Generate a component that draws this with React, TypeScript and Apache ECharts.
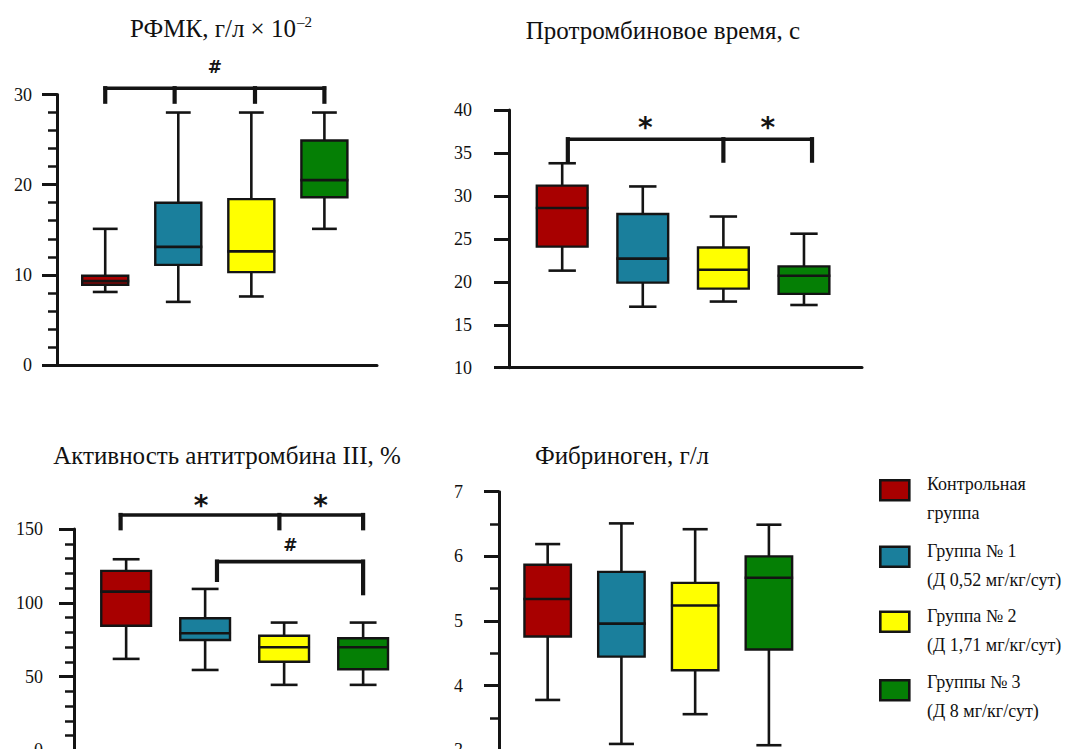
import React, { useEffect, useRef } from 'react';
import * as echarts from 'echarts';

const FONT = 'Liberation Serif, Times New Roman, serif';
const MARK_FONT = 'DejaVu Sans, sans-serif';

const GROUP_LINE1 = ['Контрольная', 'Группа № 1', 'Группа № 2', 'Группы № 3'];
const GROUP_LINE2 = ['группа', '(Д 0,52 мг/кг/сут)', '(Д 1,71 мг/кг/сут)', '(Д 8 мг/кг/сут)'];
const COLORS = ['#a80000', '#1a7f9c', '#ffff00', '#057f05'];

const TITLES = ['РФМК, г/л × 10', 'Протромбиновое время, с', 'Активность антитромбина III, %', 'Фибриноген, г/л'];

// Panel 1: РФМК
const P1_MIN = [8.1, 7.0, 7.6, 15.1];
const P1_Q1 = [8.9, 11.1, 10.3, 18.6];
const P1_MED = [9.3, 13.1, 12.6, 20.5];
const P1_Q3 = [9.9, 18.0, 18.4, 24.9];
const P1_MAX = [15.1, 28.0, 28.0, 28.0];
const P1_BRACKET_X = [[0, 0.95, 2.05, 3]];
const P1_BRACKET_LINE = [30.7];
const P1_BRACKET_END = [[29.2, 29.2, 29.2, 29.2]];
const P1_MARK_TEXT = ['#'];
const P1_MARK_POS = [[1.5, 33.0]];

// Panel 2: Протромбиновое время
const P2_MIN = [21.3, 17.1, 17.7, 17.3];
const P2_Q1 = [24.1, 19.9, 19.2, 18.6];
const P2_MED = [28.6, 22.7, 21.4, 20.7];
const P2_Q3 = [31.2, 27.9, 24.0, 21.8];
const P2_MAX = [33.8, 31.1, 27.6, 25.6];
const P2_BRACKET_X = [[0.07, 2.0, 3.1]];
const P2_BRACKET_LINE = [36.6];
const P2_BRACKET_END = [[34.1, 34.1, 34.1]];
const P2_MARK_TEXT = ['*', '*'];
const P2_MARK_POS = [[1.03, 38.6], [2.55, 38.6]];

// Panel 3: Активность антитромбина III
const P3_MIN = [62, 54.5, 44.4, 44.4];
const P3_Q1 = [84.5, 74.8, 60.1, 55];
const P3_MED = [107.6, 79.4, 69.9, 69.9];
const P3_Q3 = [121.6, 89.5, 77.7, 76];
const P3_MAX = [129.5, 109.4, 86.6, 86.6];
const P3_BRACKET_X = [[-0.07, 1.94, 3.0], [1.15, 3.0]];
const P3_BRACKET_LINE = [159.5, 127.9];
const P3_BRACKET_END = [[150.5, 150.5, 150.5], [115.5, 106.5]];
const P3_MARK_TEXT = ['*', '*', '#'];
const P3_MARK_POS = [[0.95, 170], [2.46, 170], [2.08, 139.2]];

// Panel 4: Фибриноген
const P4_MIN = [3.78, 3.1, 3.56, 3.08];
const P4_Q1 = [4.76, 4.45, 4.24, 4.56];
const P4_MED = [5.34, 4.96, 5.24, 5.67];
const P4_Q3 = [5.87, 5.76, 5.59, 6.0];
const P4_MAX = [6.19, 6.51, 6.42, 6.49];

const Y_MIN = [0, 10, 0, 3];
const Y_MAX = [30, 40, 150, 7];
const Y_INTERVAL = [10, 5, 50, 1];
const Y_MINOR = [5, 0, 5, 2];

const X_MIN = -0.66;
const X_MAX = 3.72;

type Panel = {
  min: number[]; q1: number[]; med: number[]; q3: number[]; max: number[];
  bx: number[][]; bl: number[]; be: number[][]; mt: string[]; mp: number[][];
};

const PANELS: Panel[] = [
  { min: P1_MIN, q1: P1_Q1, med: P1_MED, q3: P1_Q3, max: P1_MAX, bx: P1_BRACKET_X, bl: P1_BRACKET_LINE, be: P1_BRACKET_END, mt: P1_MARK_TEXT, mp: P1_MARK_POS },
  { min: P2_MIN, q1: P2_Q1, med: P2_MED, q3: P2_Q3, max: P2_MAX, bx: P2_BRACKET_X, bl: P2_BRACKET_LINE, be: P2_BRACKET_END, mt: P2_MARK_TEXT, mp: P2_MARK_POS },
  { min: P3_MIN, q1: P3_Q1, med: P3_MED, q3: P3_Q3, max: P3_MAX, bx: P3_BRACKET_X, bl: P3_BRACKET_LINE, be: P3_BRACKET_END, mt: P3_MARK_TEXT, mp: P3_MARK_POS },
  { min: P4_MIN, q1: P4_Q1, med: P4_MED, q3: P4_Q3, max: P4_MAX, bx: [], bl: [], be: [], mt: [], mp: [] },
];

// layout (pixels)
const GRIDS = [
  { left: 57, top: 94.5, width: 320, height: 270.5, labelMargin: 25 },
  { left: 509, top: 110, width: 353, height: 257.7, labelMargin: 37 },
  { left: 74, top: 529, width: 346, height: 221.4, labelMargin: 31 },
  { left: 499, top: 491.7, width: 323, height: 258.7, labelMargin: 36 },
];
const TITLE_POS = [[221, 28], [663, 30], [227, 455], [622, 455]];

const INK = '#141414';

function buildOption() {
  const grid: any[] = [];
  const xAxis: any[] = [];
  const yAxis: any[] = [];
  const series: any[] = [];

  PANELS.forEach((p, k) => {
    const g = GRIDS[k];
    grid.push({ left: g.left, top: g.top, width: g.width, height: g.height, containLabel: false });
    xAxis.push({
      type: 'value', gridIndex: k, min: X_MIN, max: X_MAX,
      axisLine: { show: true, onZero: false, lineStyle: { color: INK, width: 3 } },
      axisTick: { show: false }, axisLabel: { show: false }, splitLine: { show: false },
    });
    yAxis.push({
      type: 'value', gridIndex: k, min: Y_MIN[k], max: Y_MAX[k], interval: Y_INTERVAL[k],
      axisLine: { show: true, onZero: false, lineStyle: { color: INK, width: 3 } },
      axisTick: { show: true, inside: false, length: 15, lineStyle: { color: INK, width: 3 } },
      minorTick: { show: Y_MINOR[k] > 0, splitNumber: Y_MINOR[k] || 5, length: 9, lineStyle: { color: INK, width: 2.5 } },
      axisLabel: { margin: g.labelMargin, fontFamily: FONT, fontSize: 18, color: '#111' },
      splitLine: { show: false },
    });

    const boxData = p.min.map((v, i) => [i, v, p.q1[i], p.med[i], p.q3[i], p.max[i]]);
    series.push({
      type: 'custom', name: 'box' + k, xAxisIndex: k, yAxisIndex: k, clip: false,
      encode: { x: 0, y: [1, 2, 3, 4, 5] },
      data: boxData,
      renderItem: (params: any, api: any) => {
        const i = api.value(0);
        const band = api.size([1, 0])[0];
        const bw = band * 0.63;
        const cw = band * 0.34;
        const pMin = api.coord([i, api.value(1)]);
        const pQ1 = api.coord([i, api.value(2)]);
        const pMed = api.coord([i, api.value(3)]);
        const pQ3 = api.coord([i, api.value(4)]);
        const pMax = api.coord([i, api.value(5)]);
        const cx = pMin[0];
        const ls = { stroke: INK, lineWidth: 2.6 };
        return {
          type: 'group',
          children: [
            { type: 'line', shape: { x1: cx, y1: pMax[1], x2: cx, y2: pMin[1] }, style: ls },
            { type: 'line', shape: { x1: cx - cw / 2, y1: pMax[1], x2: cx + cw / 2, y2: pMax[1] }, style: ls },
            { type: 'line', shape: { x1: cx - cw / 2, y1: pMin[1], x2: cx + cw / 2, y2: pMin[1] }, style: ls },
            { type: 'rect', shape: { x: cx - bw / 2, y: pQ3[1], width: bw, height: pQ1[1] - pQ3[1] }, style: { fill: COLORS[params.dataIndex], stroke: INK, lineWidth: 2.4 } },
            { type: 'line', shape: { x1: cx - bw / 2 - 1, y1: pMed[1], x2: cx + bw / 2 + 1, y2: pMed[1] }, style: ls },
          ],
        };
      },
    });

    if (p.bx.length) {
      const segs: number[][] = [];
      p.bx.forEach((xs, b) => {
        segs.push([xs[0], p.bl[b], xs[xs.length - 1], p.bl[b]]);
        xs.forEach((x, j) => segs.push([x, p.bl[b], x, p.be[b][j]]));
      });
      series.push({
        type: 'custom', name: 'bracket' + k, xAxisIndex: k, yAxisIndex: k, clip: false,
        encode: { x: [0, 2], y: [1, 3] },
        data: segs,
        renderItem: (params: any, api: any) => {
          const a = api.coord([api.value(0), api.value(1)]);
          const b = api.coord([api.value(2), api.value(3)]);
          const vertical = Math.abs(a[0] - b[0]) < 0.5;
          return { type: 'line', shape: { x1: a[0], y1: a[1], x2: b[0], y2: b[1] }, style: { stroke: INK, lineWidth: vertical ? 4.2 : 3.6, lineCap: 'square' } };
        },
      });
      series.push({
        type: 'custom', name: 'mark' + k, xAxisIndex: k, yAxisIndex: k, clip: false,
        data: p.mp,
        renderItem: (params: any, api: any) => {
          const c = api.coord([api.value(0), api.value(1)]);
          const t = p.mt[params.dataIndex];
          const star = t === '*';
          const fs = star ? 28 : 17;
          return {
            type: 'text', x: c[0], y: c[1] + (star ? fs * 0.2 : 0),
            style: { text: t, fill: INK, fontFamily: MARK_FONT, fontWeight: 'bold', fontSize: fs, align: 'center', verticalAlign: 'middle' },
          };
        },
      });
    }
  });

  const title = TITLES.map((t, k) => ({
    text: k === 0 ? '{a|' + t + '}{s|–2}' : t,
    left: TITLE_POS[k][0], top: TITLE_POS[k][1] - 14, textAlign: 'center', padding: 0,
    textStyle: {
      fontFamily: FONT, fontSize: 25, fontWeight: 'normal', color: '#111', lineHeight: 28,
      rich: {
        a: { fontFamily: FONT, fontSize: 25, color: '#111', lineHeight: 28 },
        s: { fontFamily: FONT, fontSize: 15, color: '#111', verticalAlign: 'top', lineHeight: 28, padding: [0, 0, 12, 1] },
      },
    },
  }));

  const SW_Y = [489, 555.5, 620.5, 689];
  const TEXT_Y = [487, 554, 618.5, 685];
  const graphic: any[] = [];
  GROUP_LINE1.forEach((name, i) => {
    graphic.push({ type: 'rect', left: 879, top: SW_Y[i] - 10, shape: { x: 0, y: 0, width: 29, height: 20 }, style: { fill: COLORS[i], stroke: INK, lineWidth: 2.6 } });
    graphic.push({ type: 'text', left: 927, top: TEXT_Y[i] - 12, style: { text: name, fill: '#111', fontFamily: FONT, fontSize: 18 } });
    graphic.push({ type: 'text', left: 927, top: TEXT_Y[i] + 17, style: { text: GROUP_LINE2[i], fill: '#111', fontFamily: FONT, fontSize: 18 } });
  });

  return { animation: false, backgroundColor: '#fff', title, grid, xAxis, yAxis, series, graphic };
}

export default function App() {
  const ref = useRef<HTMLDivElement>(null);
  useEffect(() => {
    if (!ref.current) return;
    const chart = echarts.init(ref.current, undefined, { renderer: 'svg' });
    chart.setOption(buildOption() as any);
    return () => chart.dispose();
  }, []);
  return <div ref={ref} style={{ position: 'fixed', left: 0, top: 0, width: 1068, height: 770, background: '#fff' }} />;
}
